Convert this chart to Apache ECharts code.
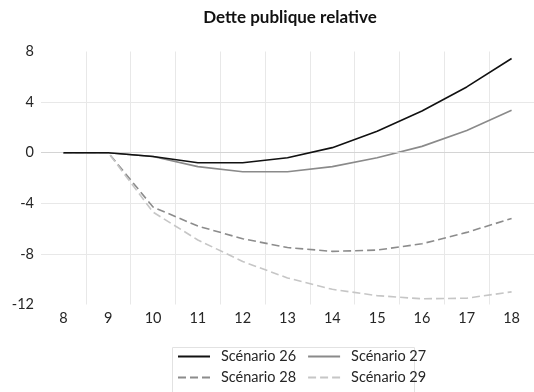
<!DOCTYPE html>
<html>
<head>
<meta charset="utf-8">
<script src="https://cdn.jsdelivr.net/npm/echarts@6/dist/echarts.min.js"></script>
<style>
html,body{margin:0;padding:0;background:#fff;}
#chart{width:534px;height:392px;}
</style>
</head>
<body>
<div id="chart"></div>
<script>
const categories = ['8','9','10','11','12','13','14','15','16','17','18'];
const scenario26 = [0, 0, -0.3, -0.8, -0.8, -0.4, 0.4, 1.7, 3.3, 5.2, 7.45];
const scenario27 = [0, 0, -0.3, -1.1, -1.5, -1.5, -1.1, -0.4, 0.5, 1.75, 3.35];
const scenario28 = [0, 0, -4.3, -5.8, -6.8, -7.5, -7.8, -7.7, -7.2, -6.3, -5.2];
const scenario29 = [0, 0, -4.7, -6.9, -8.6, -9.9, -10.8, -11.3, -11.55, -11.5, -11.0];
const yTicks = {min: -12, max: 8, interval: 4};

const FONT = 'Lato';
const chart = echarts.init(document.getElementById('chart'), null, {renderer: 'canvas'});

function mk(name, data, color, type) {
  return {
    name, type: 'line', data, showSymbol: false, symbol: 'none',
    lineStyle: {color, width: 1.6, type: type === 'dashed' ? [8, 4] : 'solid'},
    itemStyle: {color},
    smooth: false
  };
}

const series = [
  mk('Scénario 26', scenario26, '#111111', 'solid'),
  mk('Scénario 27', scenario27, '#8a8a8a', 'solid'),
  mk('Scénario 28', scenario28, '#8c8c8c', 'dashed'),
  mk('Scénario 29', scenario29, '#c6c6c6', 'dashed')
];
series[0].markLine = {
  silent: true, symbol: 'none', label: {show: false},
  lineStyle: {color: '#d4d4d4', width: 1, type: 'solid'},
  data: [{yAxis: 0}], animation: false
};
series[0].z = 5;

const legendText = {fontFamily: FONT, fontSize: 14.5, color: '#262626', padding: [0, 0, 0, 6]};
const legendCommon = {
  left: 177, itemWidth: 32, itemHeight: 14, itemGap: 11, padding: 0,
  textStyle: legendText, itemStyle: {opacity: 0}
};

chart.setOption({
  animation: false,
  title: {
    text: 'Dette publique relative', left: 285, top: 4, textAlign: 'center',
    textStyle: {fontFamily: FONT, fontWeight: 'bold', fontSize: 17, color: '#111'}
  },
  grid: {left: 41, top: 51.5, width: 501, height: 253, containLabel: false},
  xAxis: {
    type: 'category', data: categories, boundaryGap: true,
    axisLine: {show: false}, axisTick: {show: false},
    axisLabel: {fontFamily: FONT, fontSize: 14.5, color: '#262626', margin: 6},
    splitLine: {show: true, showMinLine: false, lineStyle: {color: '#e8e8e8', width: 1}}
  },
  yAxis: {
    type: 'value', min: yTicks.min, max: yTicks.max, interval: yTicks.interval,
    axisLine: {show: false}, axisTick: {show: false},
    axisLabel: {fontFamily: FONT, fontSize: 14.5, color: '#262626', margin: 7},
    splitLine: {show: true, showMinLine: false, showMaxLine: false, lineStyle: {color: '#e8e8e8', width: 1}}
  },
  legend: [
    Object.assign({data: ['Scénario 26', 'Scénario 27'], top: 349}, legendCommon),
    Object.assign({data: ['Scénario 28', 'Scénario 29'], top: 370}, legendCommon)
  ],
  graphic: [{
    type: 'rect', left: 170, top: 345, shape: {width: 242, height: 46},
    style: {fill: 'none', stroke: '#e2e2e2', lineWidth: 1}, silent: true
  }],
  series
});
</script>
</body>
</html>
